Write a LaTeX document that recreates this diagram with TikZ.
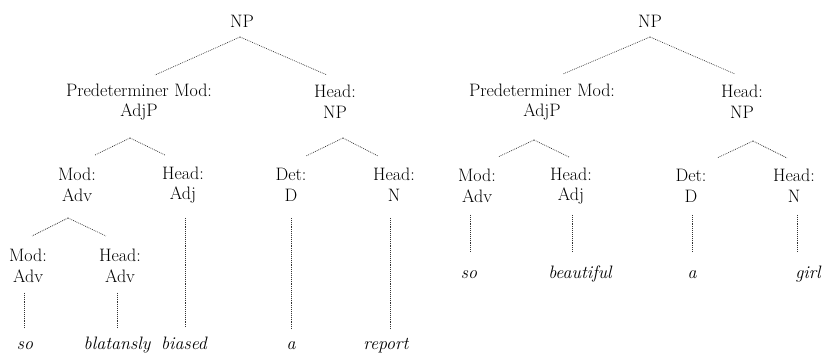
\documentclass[tikz,border=0pt]{standalone}
\begin{document}
\begin{tikzpicture}[x=1pt,y=-1pt,
  lab/.style={font=\fontsize{18}{20.5}\selectfont, align=center, inner sep=0pt},
  wrd/.style={font=\fontsize{18}{20.5}\selectfont\itshape, inner sep=0pt, anchor=base},
  branch/.style={draw=black!80, line width=0.7pt, dash pattern=on 0.8pt off 1.1pt},
  stem/.style={draw=black!80, line width=0.7pt, dash pattern=on 0.8pt off 1.1pt}]
\useasboundingbox (0,0) rectangle (823,355);
% ---------- left tree ----------
\node[lab] (np1)   at (242,21)  {NP};
\node[lab] (pm1)   at (139,102) {Predeterminer Mod:\\AdjP};
\node[lab] (hnp1)  at (335,102) {Head:\\NP};
\node[lab] (mod1)  at (77,185)  {Mod:\\Adv};
\node[lab] (hadj1) at (183,185) {Head:\\Adj};
\node[lab] (det1)  at (291,185) {Det:\\D};
\node[lab] (hn1)   at (394,185) {Head:\\N};
\node[lab] (mod2)  at (28,266)  {Mod:\\Adv};
\node[lab] (hadv2) at (120,266) {Head:\\Adv};
\node[wrd] (so1)   at (25,350)  {so};
\node[wrd] (blat)  at (117,350) {blatansly};
\node[wrd] (bias)  at (184,350) {biased};
\node[wrd] (a1)    at (291,350) {a};
\node[wrd] (rep)   at (386,350) {report};
% branches
\draw[branch] ([shift={(-2,16)}]np1.center) -- ([shift={(16,-27)}]pm1.center);
\draw[branch] ([shift={(-2,16)}]np1.center) -- ([shift={(-8,-27)}]hnp1.center);
\draw[branch] ([shift={(-9,36)}]pm1.center) -- ([shift={(18,-30)}]mod1.center);
\draw[branch] ([shift={(-9,36)}]pm1.center) -- ([shift={(-18,-30)}]hadj1.center);
\draw[branch] ([shift={(8,36)}]hnp1.center) -- ([shift={(15,-29)}]det1.center);
\draw[branch] ([shift={(8,36)}]hnp1.center) -- ([shift={(-16,-29)}]hn1.center);
\draw[branch] ([shift={(-9,33)}]mod1.center) -- ([shift={(4,-30)}]mod2.center);
\draw[branch] ([shift={(-9,33)}]mod1.center) -- ([shift={(-14,-30)}]hadv2.center);
% stems
\draw[stem] ([shift={(-4,27)}]mod2.center) -- ([shift={(-1,-22)}]so1.base);
\draw[stem] ([shift={(-3,27)}]hadv2.center) -- ([shift={(0,-22)}]blat.base);
\draw[stem] ([shift={(2,33)}]hadj1.center) -- ([shift={(1,-22)}]bias.base);
\draw[stem] ([shift={(0,33)}]det1.center) -- ([shift={(0,-20)}]a1.base);
\draw[stem] ([shift={(-4,33)}]hn1.center) -- ([shift={(4,-20)}]rep.base);
% ---------- right tree ----------
\node[lab] (np2)   at (650,21)  {NP};
\node[lab] (pm2)   at (542,102) {Predeterminer Mod:\\AdjP};
\node[lab] (hnp2)  at (742,102) {Head:\\NP};
\node[lab] (mod3)  at (477,186) {Mod:\\Adv};
\node[lab] (hadj3) at (571,186) {Head:\\Adj};
\node[lab] (det3)  at (691,186) {Det:\\D};
\node[lab] (hn3)   at (794,186) {Head:\\N};
\node[wrd] (so2)   at (469,279) {so};
\node[wrd] (beau)  at (580,279) {beautiful};
\node[wrd] (a2)    at (692,279) {a};
\node[wrd] (girl)  at (808,279) {girl};
\draw[branch] ([shift={(0,16)}]np2.center) -- ([shift={(21,-28)}]pm2.center);
\draw[branch] ([shift={(0,16)}]np2.center) -- ([shift={(-7,-28)}]hnp2.center);
\draw[branch] ([shift={(-8,38)}]pm2.center) -- ([shift={(21,-29)}]mod3.center);
\draw[branch] ([shift={(-8,38)}]pm2.center) -- ([shift={(-2,-29)}]hadj3.center);
\draw[branch] ([shift={(11,39)}]hnp2.center) -- ([shift={(26,-28)}]det3.center);
\draw[branch] ([shift={(11,39)}]hnp2.center) -- ([shift={(-7,-28)}]hn3.center);
\draw[stem] ([shift={(-7,29)}]mod3.center) -- ([shift={(1,-27)}]so2.base);
\draw[stem] ([shift={(1,29)}]hadj3.center) -- ([shift={(-8,-27)}]beau.base);
\draw[stem] ([shift={(1,29)}]det3.center) -- ([shift={(0,-27)}]a2.base);
\draw[stem] ([shift={(3,29)}]hn3.center) -- ([shift={(-11,-27)}]girl.base);
\end{tikzpicture}
\end{document}
